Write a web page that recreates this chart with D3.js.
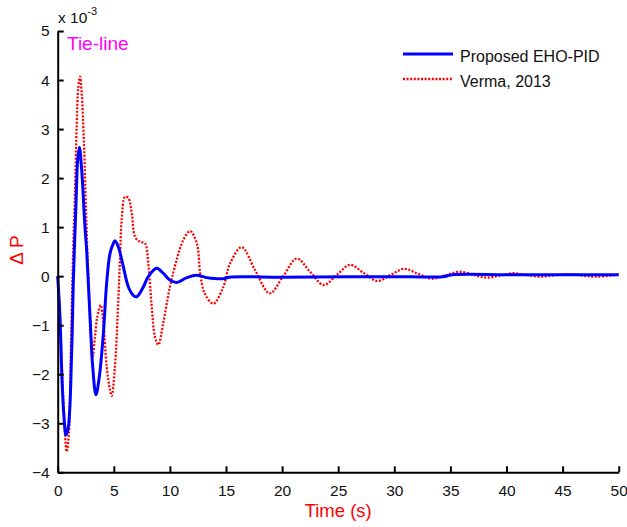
<!DOCTYPE html>
<html>
<head>
<meta charset="utf-8">
<script src="https://cdn.jsdelivr.net/npm/d3@7"></script>
<style>
  html, body { margin: 0; padding: 0; background: #fff; }
  svg { display: block; font-family: Arial, "Liberation Sans", Helvetica, sans-serif; }
</style>
</head>
<body>
<svg id="chart" width="627" height="527"></svg>
<script>
// Tie-line power deviation (x 10^-3) after a load disturbance
const timeEho = [0, 0.2, 0.36, 0.56, 0.74, 0.95, 1.25, 1.39, 1.63, 1.78, 1.93, 2.14, 2.43, 2.58, 2.88, 3.12, 3.41, 3.71, 4.07, 4.36, 4.66, 4.96, 5.1, 5.4, 5.85, 6.3, 6.74, 7.04, 7.63, 8.07, 8.82, 9.4, 10.0, 10.6, 11.5, 12.4, 13.3, 14.0, 14.8, 15.3, 20, 26, 30, 34.3, 35.2, 40, 45, 50];
const dpEho   = [0, -0.83, -1.98, -2.87, -3.24, -3.07, -1.5, -0.15, 1.48, 2.37, 2.63, 2.16, 1.0, 0.53, -0.83, -1.85, -2.42, -2.05, -1.17, -0.15, 0.46, 0.67, 0.72, 0.6, 0.19, -0.22, -0.39, -0.42, -0.22, -0.01, 0.16, 0.06, -0.08, -0.13, -0.03, 0.02, -0.03, -0.05, -0.05, -0.02, -0.02, -0.01, -0.01, -0.01, 0.03, 0.03, 0.03, 0.03];

const timeVerma = [0, 0.2, 0.4, 0.6, 0.8, 1.0, 1.2, 1.39, 1.54, 1.69, 1.84, 1.99, 2.14, 2.34, 2.52, 2.67, 2.88, 3.12, 3.32, 3.53, 3.83, 4.07, 4.37, 4.66, 4.81, 5.1, 5.4, 5.55, 5.7, 6.0, 6.3, 6.6, 6.9, 7.34, 7.78, 8.07, 8.38, 8.67, 8.97, 9.4, 10.0, 10.6, 11.2, 11.8, 12.4, 12.7, 13.1, 13.87, 14.76, 15.36, 16.4, 17.6, 18.9, 20.1, 21.3, 22.5, 23.7, 24.9, 26.05, 27.3, 28.5, 29.7, 30.9, 32.1, 33.3, 34.6, 35.85, 37.0, 38.2, 39.4, 40.6, 41.8, 43.0, 44.3, 45.6, 46.8, 48.0, 50];
const dpVerma   = [0, -0.8, -1.95, -3.0, -3.58, -3.2, -1.2, 0.6, 1.69, 3.05, 3.86, 4.07, 3.73, 2.71, 1.35, 0.33, -0.83, -1.64, -1.24, -0.83, -0.59, -0.96, -1.85, -2.32, -2.44, -1.85, -0.49, 0.33, 1.14, 1.62, 1.59, 1.28, 0.8, 0.7, 0.67, 0.26, -0.62, -1.24, -1.4, -0.96, -0.22, 0.33, 0.74, 0.92, 0.67, 0.06, -0.35, -0.56, -0.22, 0.26, 0.59, 0.12, -0.35, 0.0, 0.36, 0.09, -0.18, 0.03, 0.23, 0.06, -0.1, 0.03, 0.15, 0.05, -0.05, 0.02, 0.09, 0.03, -0.03, 0.01, 0.06, 0.02, -0.01, 0.02, 0.04, 0.01, -0.01, 0.03];

const xTicks = [0, 5, 10, 15, 20, 25, 30, 35, 40, 45, 50];
const yTicks = [-4, -3, -2, -1, 0, 1, 2, 3, 4, 5];
const seriesNames = ["Proposed EHO-PID", "Verma, 2013"];

const svg = d3.select("#chart");
const plotLeft = 57.7, plotRight = 618.7, plotTop = 31, plotBottom = 472.3;

const x = d3.scaleLinear().domain([0, 50]).range([plotLeft, plotRight]);
const y = d3.scaleLinear().domain([-4, 5]).range([plotBottom, plotTop]);

const line = d3.line()
  .x(d => x(d[0]))
  .y(d => y(d[1]))
  .curve(d3.curveCatmullRom.alpha(0.5));

const toPairs = (ts, vs) => ts.map((t, i) => [t, vs[i]]);

// Curves
svg.append("path")
  .datum(toPairs(timeVerma, dpVerma))
  .attr("d", line)
  .attr("fill", "none")
  .attr("stroke", "#ff0000")
  .attr("stroke-width", 2.3)
  .attr("stroke-dasharray", "2,1.6");

svg.append("path")
  .datum(toPairs(timeEho, dpEho))
  .attr("d", line)
  .attr("fill", "none")
  .attr("stroke", "#0000ff")
  .attr("stroke-width", 3);

// Axes (ticks point into the plot)
const xAxis = svg.append("g")
  .attr("transform", `translate(0,${plotBottom})`)
  .call(d3.axisBottom(x).tickValues(xTicks).tickSizeInner(-6).tickSizeOuter(0).tickPadding(10));
const yAxis = svg.append("g")
  .attr("transform", `translate(${plotLeft},0)`)
  .call(d3.axisLeft(y).tickValues(yTicks).tickSizeInner(-6).tickSizeOuter(0).tickPadding(8));

[xAxis, yAxis].forEach(g => {
  g.select(".domain").attr("stroke", "#000").attr("stroke-width", 2);
  g.selectAll(".tick line").attr("stroke", "#000").attr("stroke-width", 2);
  g.selectAll(".tick text")
    .attr("fill", "#111")
    .style("font-size", "15.5px")
    .style("font-family", "Arial, 'Liberation Sans', sans-serif");
});
xAxis.selectAll(".tick text").attr("dy", "0.9em");

// Exponent label
const expo = svg.append("text")
  .attr("x", 58).attr("y", 22.7)
  .attr("fill", "#111")
  .style("font-size", "15.5px");
expo.append("tspan").text("x 10");
expo.append("tspan").attr("dy", -8).style("font-size", "11px").text("-3");

// Axis titles
svg.append("text")
  .attr("x", (plotLeft + plotRight) / 2).attr("y", 517)
  .attr("text-anchor", "middle")
  .attr("fill", "#ff0000")
  .style("font-size", "18.5px")
  .text("Time (s)");

svg.append("text")
  .attr("transform", "translate(23,250) rotate(-90)")
  .attr("text-anchor", "middle")
  .attr("fill", "#ff0000")
  .style("font-size", "19px")
  .text("\u0394 P");

// Panel title
svg.append("text")
  .attr("x", 67).attr("y", 50)
  .attr("fill", "#ff00ff")
  .style("font-size", "19px")
  .text("Tie-line");

// Legend
const legend = svg.append("g");
const legendStyles = [
  { color: "#0000ff", width: 3, dash: null },
  { color: "#ff0000", width: 2.3, dash: "2,1.6" }
];
seriesNames.forEach((name, i) => {
  const yy = 54 + i * 25;
  legend.append("line")
    .attr("x1", 403).attr("x2", 453)
    .attr("y1", yy).attr("y2", yy)
    .attr("stroke", legendStyles[i].color)
    .attr("stroke-width", legendStyles[i].width)
    .attr("stroke-dasharray", legendStyles[i].dash);
  legend.append("text")
    .attr("x", 460).attr("y", yy + 7.5)
    .attr("fill", "#111")
    .style("font-size", "16px")
    .text(name);
});
</script>
</body>
</html>
